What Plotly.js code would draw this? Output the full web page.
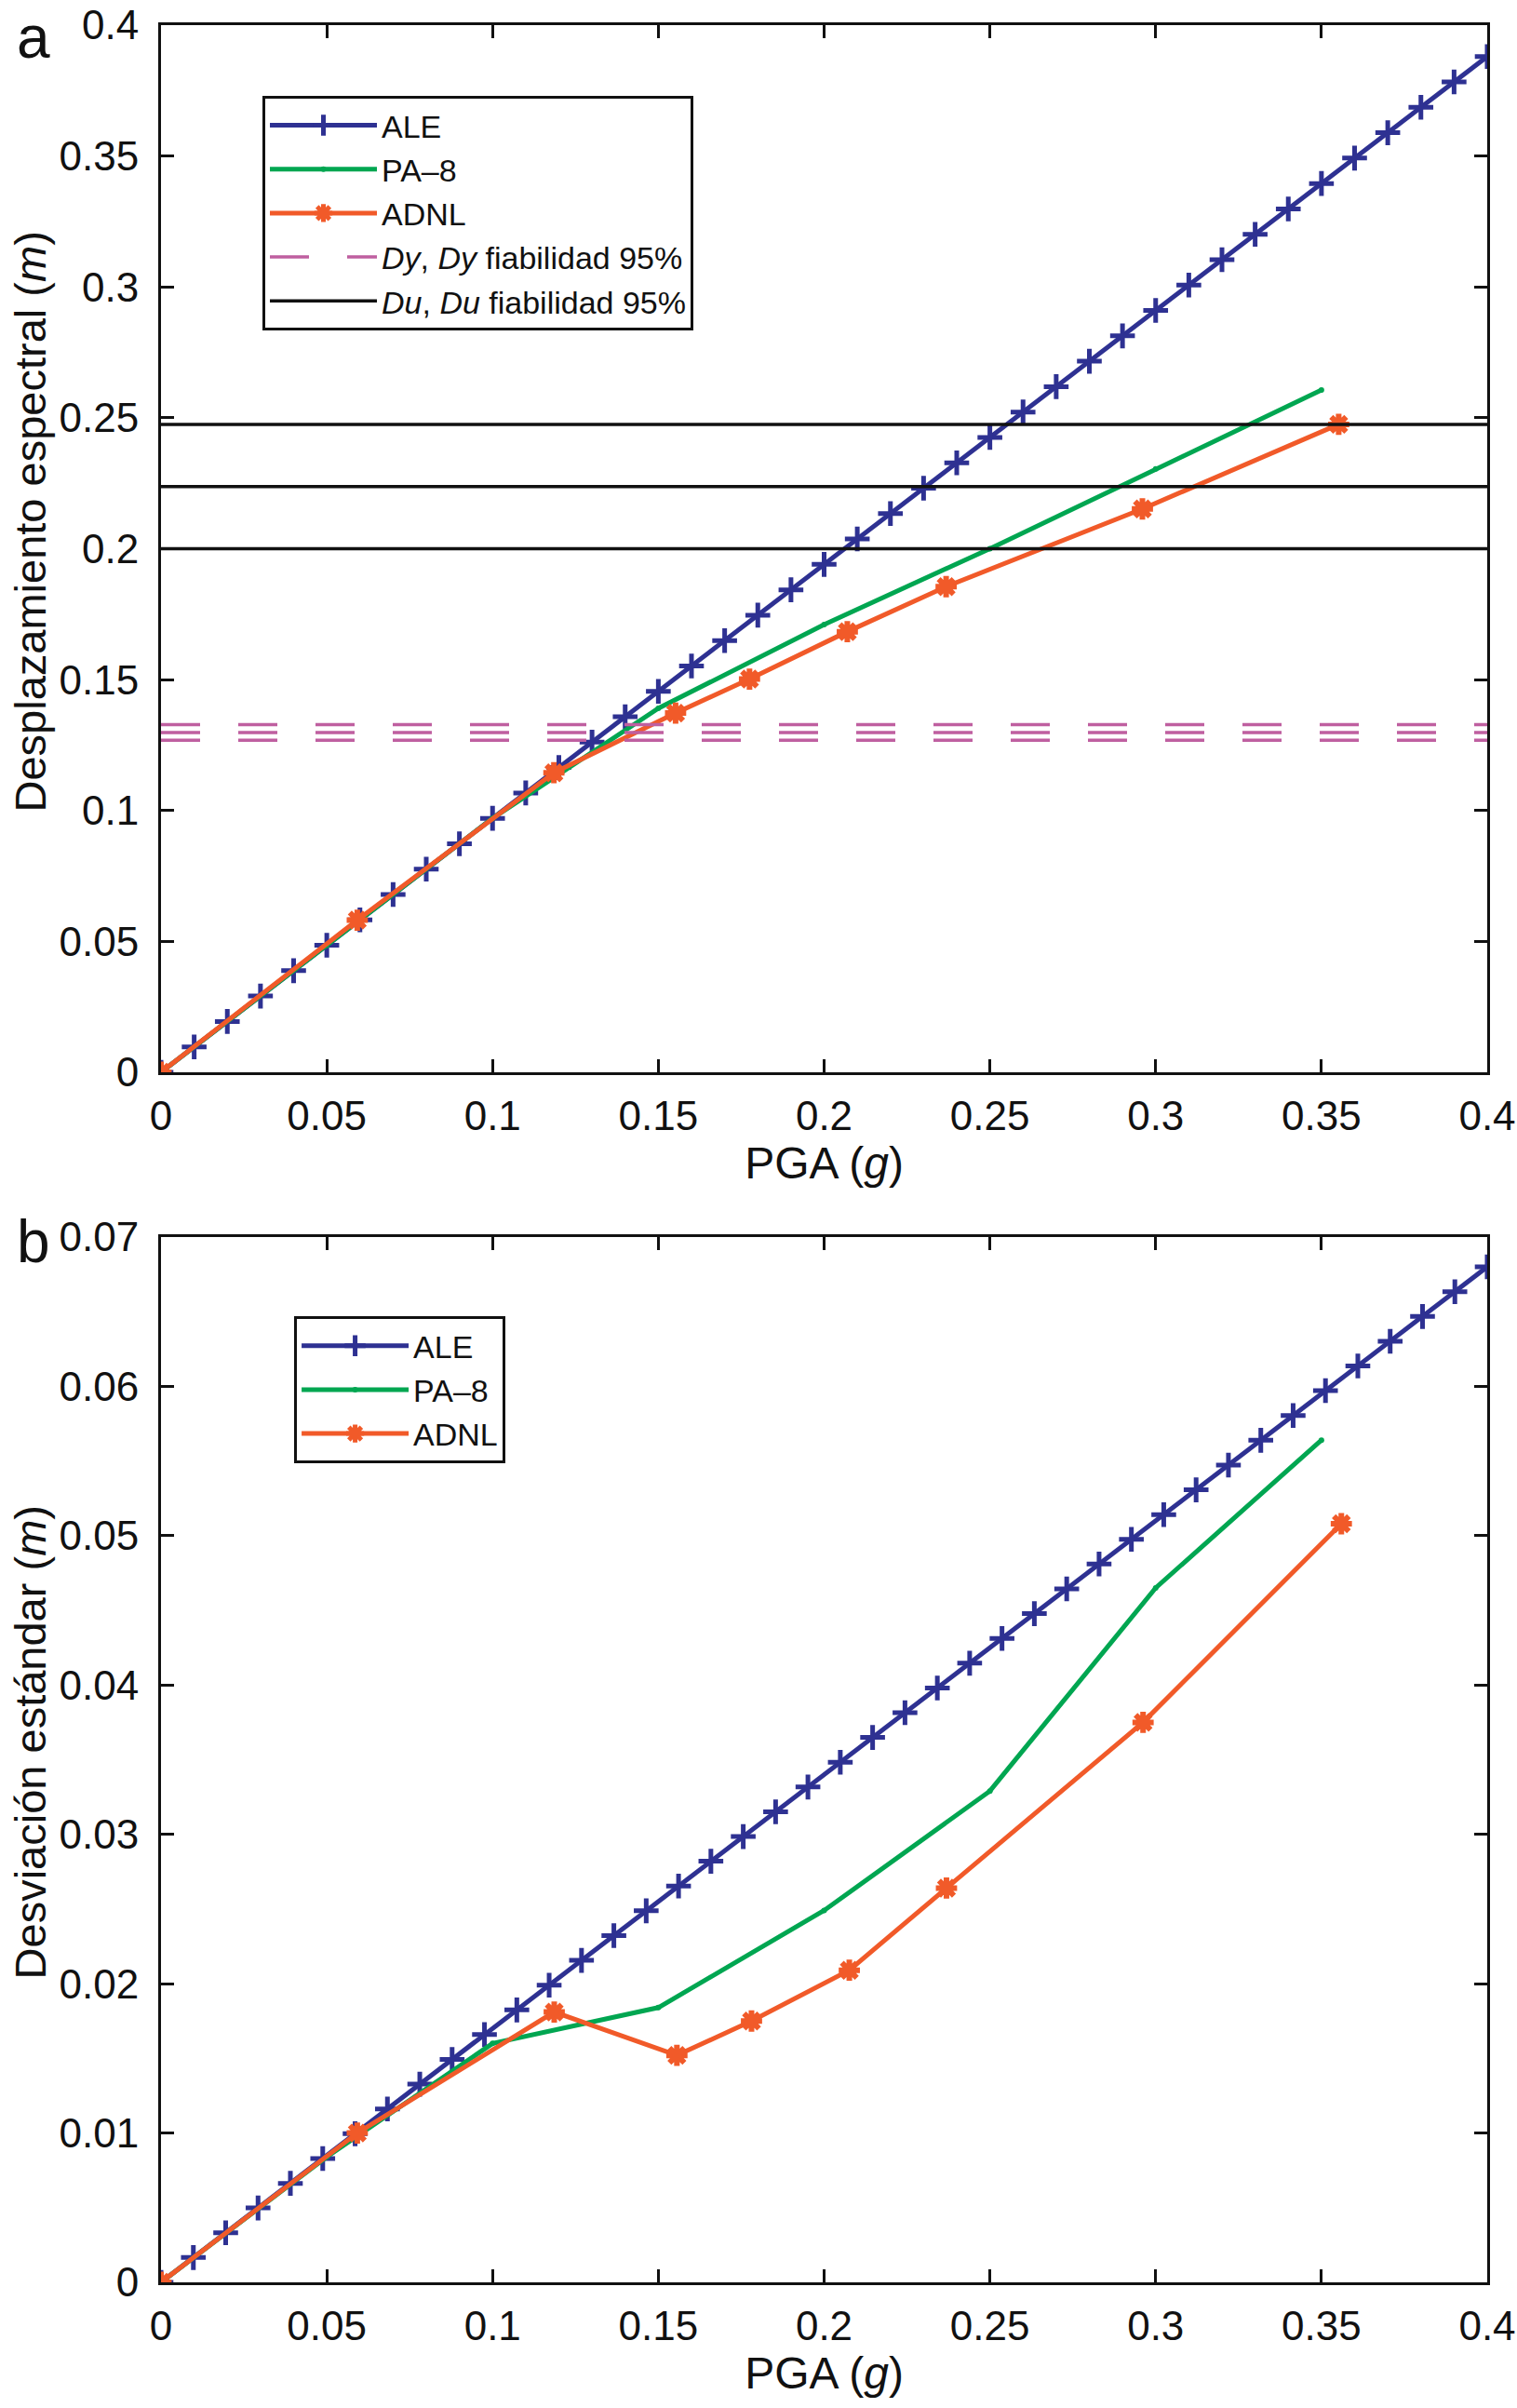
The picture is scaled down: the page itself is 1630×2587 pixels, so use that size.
<!DOCTYPE html>
<html>
<head>
<meta charset="utf-8">
<script src="https://cdn.plot.ly/plotly-3.0.1.min.js"></script>
<style>html,body{margin:0;padding:0;background:#fff;}#chart{width:1630px;height:2587px;}</style>
</head>
<body>
<div id="chart"></div>
<script>
// ---------- Panel a: Desplazamiento espectral ----------
const pgaA_ALE = [0,0.01,0.02,0.03,0.04,0.05,0.06,0.07,0.08,0.09,0.1,0.11,0.12,0.13,0.14,0.15,0.16,0.17,0.18,0.19,0.2,0.21,0.22,0.23,0.24,0.25,0.26,0.27,0.28,0.29,0.3,0.31,0.32,0.33,0.34,0.35,0.36,0.37,0.38,0.39,0.4];
const sdA_ALE = [0,0.0097,0.0194,0.0291,0.0388,0.0485,0.0582,0.0679,0.0776,0.0873,0.097,0.1067,0.1164,0.1261,0.1358,0.1455,0.1552,0.1649,0.1746,0.1843,0.194,0.2037,0.2134,0.2231,0.2328,0.2425,0.2522,0.2619,0.2716,0.2813,0.291,0.3007,0.3104,0.3201,0.3298,0.3395,0.3492,0.3589,0.3686,0.3783,0.388];
const pgaA_PA8 = [0,0.05,0.1,0.15,0.2,0.25,0.3,0.35];
const sdA_PA8 = [0,0.0485,0.097,0.139,0.171,0.2,0.2305,0.2606];
const pgaA_ADNL = [0,0.0592,0.1185,0.1552,0.1775,0.207,0.2368,0.296,0.3552];
const sdA_ADNL = [0,0.0581,0.1144,0.1372,0.1502,0.1683,0.1855,0.2152,0.2475];
const dyLevels = [0.1268,0.1298,0.1328];
const duLevels = [0.2,0.2237,0.2475];
const xSpan = [0,0.4];

// ---------- Panel b: Desviación estándar ----------
const pgaB_ALE = [0,0.00976,0.01951,0.02927,0.03902,0.04878,0.05854,0.06829,0.07805,0.0878,0.09756,0.10732,0.11707,0.12683,0.13659,0.14634,0.1561,0.16585,0.17561,0.18537,0.19512,0.20488,0.21463,0.22439,0.23415,0.2439,0.25366,0.26341,0.27317,0.28293,0.29268,0.30244,0.3122,0.32195,0.33171,0.34146,0.35122,0.36098,0.37073,0.38049,0.39024,0.4];
const sdB_ALE = [0,0.00166,0.00332,0.00498,0.00663,0.00829,0.00995,0.01161,0.01327,0.01493,0.01659,0.01824,0.0199,0.02156,0.02322,0.02488,0.02654,0.0282,0.02985,0.03151,0.03317,0.03483,0.03649,0.03815,0.0398,0.04146,0.04312,0.04478,0.04644,0.0481,0.04976,0.05141,0.05307,0.05473,0.05639,0.05805,0.05971,0.06137,0.06302,0.06468,0.06634,0.068];
const pgaB_PA8 = [0,0.05,0.1,0.15,0.2,0.25,0.3,0.35];
const sdB_PA8 = [0,0.0084,0.016,0.0184,0.0249,0.0329,0.0465,0.0564];
const pgaB_ADNL = [0,0.0592,0.1186,0.1556,0.1781,0.2076,0.2369,0.2962,0.356];
const sdB_ADNL = [0,0.01,0.0181,0.0152,0.0175,0.0209,0.0264,0.0375,0.0508];

const names = ['ALE','PA\u20138','ADNL','<i>Dy</i>, <i>Dy</i> fiabilidad 95%','<i>Du</i>, <i>Du</i> fiabilidad 95%'];
const yTitles = ['Desplazamiento espectral (<i>m</i>)','Desviación estándar (<i>m</i>)'];
const xTitle = 'PGA (<i>g</i>)';
const C_BLUE = '#2e3192', C_GREEN = '#00a651', C_ORANGE = '#f15a29', C_PINK = '#bf5fa0';
const FONT = 'Liberation Sans, Arial, Helvetica, sans-serif';

function levelsTrace(levels){
  const x = [], y = [];
  levels.forEach((v,i) => { if(i){x.push(null);y.push(null);} x.push(xSpan[0],xSpan[1]); y.push(v,v); });
  return {x, y};
}
const dy = levelsTrace(dyLevels), du = levelsTrace(duLevels);

function aleTrace(x,y,xa,ya,lg){
  return {x, y, xaxis:xa, yaxis:ya, legend:lg, name:names[0], type:'scatter', mode:'lines+markers',
    line:{color:C_BLUE,width:5},
    marker:{symbol:'cross-thin',size:19,color:C_BLUE,line:{color:C_BLUE,width:5}}};
}
function pa8Trace(x,y,xa,ya,lg){
  return {x, y, xaxis:xa, yaxis:ya, legend:lg, name:names[1], type:'scatter', mode:'lines+markers',
    line:{color:C_GREEN,width:5}, marker:{symbol:'circle',size:6,color:C_GREEN}};
}
function adnlTrace(x,y,xa,ya,lg){
  return {x, y, xaxis:xa, yaxis:ya, legend:lg, name:names[2], type:'scatter', mode:'lines+markers',
    line:{color:C_ORANGE,width:5},
    marker:{symbol:'asterisk',size:19,color:C_ORANGE,line:{color:C_ORANGE,width:6}}};
}

const data = [
  aleTrace(pgaA_ALE, sdA_ALE, 'x','y','legend'),
  pa8Trace(pgaA_PA8, sdA_PA8, 'x','y','legend'),
  adnlTrace(pgaA_ADNL, sdA_ADNL, 'x','y','legend'),
  {x:dy.x, y:dy.y, xaxis:'x', yaxis:'y', legend:'legend', name:names[3], type:'scatter', mode:'lines',
    line:{color:C_PINK,width:3.5,dash:'42px,41px'}},
  {x:du.x, y:du.y, xaxis:'x', yaxis:'y', legend:'legend', name:names[4], type:'scatter', mode:'lines',
    line:{color:'#111',width:3.5}},
  aleTrace(pgaB_ALE, sdB_ALE, 'x2','y2','legend2'),
  pa8Trace(pgaB_PA8, sdB_PA8, 'x2','y2','legend2'),
  adnlTrace(pgaB_ADNL, sdB_ADNL, 'x2','y2','legend2')
];

function xAxis(anchor){
  return {anchor, domain:[0,1], range:[0,0.4], dtick:0.05, tick0:0,
    ticks:'inside', ticklen:14, tickwidth:3, tickcolor:'#111',
    showline:true, linewidth:3, linecolor:'#111', mirror:'allticks',
    showgrid:false, zeroline:false, ticklabelstandoff:6,
    tickfont:{family:FONT,size:44,color:'#111'},
    title:{text:xTitle, font:{family:FONT,size:48,color:'#111'}, standoff:10}};
}
function yAxis(anchor, domain, range, dtick){
  return {anchor, domain, range, dtick, tick0:0,
    ticks:'inside', ticklen:14, tickwidth:3, tickcolor:'#111',
    showline:true, linewidth:3, linecolor:'#111', mirror:'allticks',
    showgrid:false, zeroline:false, ticklabelstandoff:12,
    tickfont:{family:FONT,size:44,color:'#111'}};
}

const layout = {
  width:1630, height:2587,
  margin:{l:173, r:32, t:27, b:135},
  paper_bgcolor:'#fff', plot_bgcolor:'#fff',
  font:{family:FONT, color:'#111'},
  showlegend:true,
  xaxis: xAxis('y'),
  yaxis: yAxis('x', [0.5361,1], [0,0.4], 0.05),
  xaxis2: xAxis('y2'),
  yaxis2: yAxis('x2', [0,0.4631], [0,0.07], 0.01),
  legend:{x:0.0765, y:0.9687, xanchor:'left', yanchor:'top', bgcolor:'#fff',
    bordercolor:'#111', borderwidth:3, font:{family:FONT,size:34,color:'#111'}, itemwidth:115, tracegroupgap:0},
  legend2:{x:0.1004, y:0.428, xanchor:'left', yanchor:'top', bgcolor:'#fff',
    bordercolor:'#111', borderwidth:3, font:{family:FONT,size:34,color:'#111'}, itemwidth:115, tracegroupgap:0},
  annotations:[
    {text:'a', xref:'paper', yref:'paper', x:-0.110, y:0.9946, xanchor:'left', yanchor:'middle', showarrow:false,
     font:{family:FONT,size:64,color:'#111'}},
    {text:'b', xref:'paper', yref:'paper', x:-0.110, y:0.461, xanchor:'left', yanchor:'middle', showarrow:false,
     font:{family:FONT,size:64,color:'#111'}},
    {text:yTitles[0], xref:'paper', yref:'paper', x:-0.1186, y:0.7802, xanchor:'left', yanchor:'middle',
     textangle:-90, showarrow:false, font:{family:FONT,size:47,color:'#111'}},
    {text:yTitles[1], xref:'paper', yref:'paper', x:-0.1186, y:0.2392, xanchor:'left', yanchor:'middle',
     textangle:-90, showarrow:false, font:{family:FONT,size:47,color:'#111'}}
  ]
};

Plotly.newPlot('chart', data, layout, {staticPlot:true, displayModeBar:false});
</script>
</body>
</html>
